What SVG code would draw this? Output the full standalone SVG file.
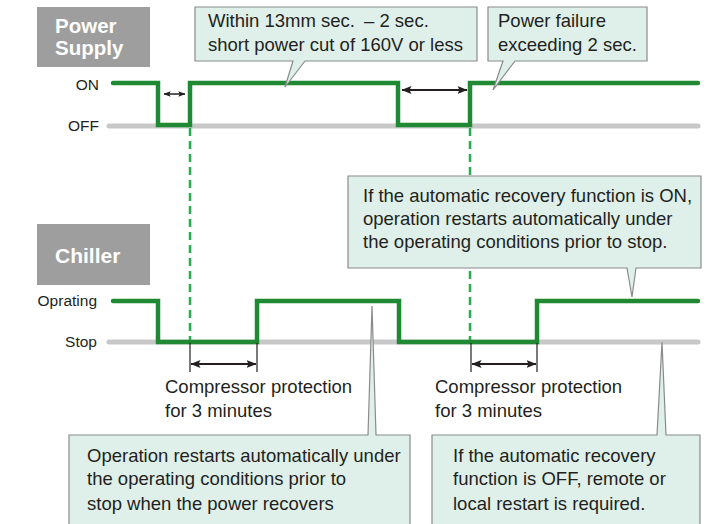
<svg xmlns="http://www.w3.org/2000/svg" width="715" height="524" viewBox="0 0 715 524">
<defs>
<style>
.t{font-family:"Liberation Sans",Arial,sans-serif;font-size:18.5px;fill:#231f20}
.lab{font-family:"Liberation Sans",Arial,sans-serif;font-size:15.5px;fill:#231f20;text-anchor:end}
.head{font-family:"Liberation Sans",Arial,sans-serif;font-size:20.5px;font-weight:bold;fill:#ffffff}
.hbox{fill:#9e9e9e}
.base{stroke:#c8c8c8;stroke-width:5;fill:none;stroke-linecap:round}
.sig{stroke:#1f8a33;stroke-width:4.5;fill:none;stroke-linecap:round;stroke-linejoin:miter}
.dash{stroke:#1db34a;stroke-width:2.5;fill:none;stroke-dasharray:8 5}
.call{fill:#dff0ea;stroke:#8a8a8a;stroke-width:1.2}
.tick{stroke:#231f20;stroke-width:1.2}
.arr{stroke:#231f20;stroke-width:2;fill:none}
</style>
<marker id="ah" viewBox="0 0 10 8" refX="9.5" refY="4" markerWidth="10" markerHeight="8" markerUnits="userSpaceOnUse" orient="auto-start-reverse">
<path d="M0,0 L10,4 L0,8 L2,4 Z" fill="#231f20"/>
</marker>
<marker id="ahs" viewBox="0 0 10 8" refX="9.5" refY="4" markerWidth="7" markerHeight="6" markerUnits="userSpaceOnUse" orient="auto-start-reverse">
<path d="M0,0 L10,4 L0,8 L2,4 Z" fill="#231f20"/>
</marker>
</defs>

<g id="power-supply-header">
<rect class="hbox" x="37" y="7" width="113" height="60"/>
<text class="head" x="55" y="33">Power</text>
<text class="head" x="55" y="55">Supply</text>
</g>

<g id="chiller-header">
<rect class="hbox" x="37" y="224" width="113" height="61"/>
<text class="head" x="55" y="263" style="font-size:21px">Chiller</text>
</g>

<g id="axis-labels">
<text class="lab" x="99" y="90">ON</text>
<text class="lab" x="99" y="131">OFF</text>
<text class="lab" x="97" y="306">Oprating</text>
<text class="lab" x="97" y="347">Stop</text>
</g>

<g id="connectors">
<line class="base" x1="109" y1="126" x2="698" y2="126"/>
<line class="base" x1="109" y1="342" x2="698" y2="342"/>
<line class="dash" x1="190" y1="128" x2="190" y2="340"/>
<line class="dash" x1="470" y1="128" x2="470" y2="340"/>
<polyline class="sig" points="113,83 158,83 158,125 190,125 190,83 398,83 398,125 470,125 470,83 698,83"/>
<polyline class="sig" points="113,301 158,301 158,342 257,342 257,301 399,301 399,342 537,342 537,301 698,301"/>
<line class="arr" x1="164" y1="94" x2="185" y2="94" marker-start="url(#ahs)" marker-end="url(#ahs)" style="stroke-width:1.5"/>
<line class="arr" x1="402" y1="90" x2="467" y2="90" marker-start="url(#ah)" marker-end="url(#ah)"/>
<line class="tick" x1="190" y1="343" x2="190" y2="372"/>
<line class="tick" x1="257" y1="343" x2="257" y2="372"/>
<line class="arr" x1="191" y1="364" x2="256" y2="364" marker-start="url(#ah)" marker-end="url(#ah)"/>
<line class="tick" x1="471" y1="343" x2="471" y2="372"/>
<line class="tick" x1="537" y1="343" x2="537" y2="372"/>
<line class="arr" x1="472" y1="364" x2="536" y2="364" marker-start="url(#ah)" marker-end="url(#ah)"/>
</g>

<g id="compressor-label-1">
<text class="t" x="165" y="393">Compressor protection</text>
<text class="t" x="165" y="417">for 3 minutes</text>
</g>
<g id="compressor-label-2">
<text class="t" x="435" y="393">Compressor protection</text>
<text class="t" x="435" y="417">for 3 minutes</text>
</g>

<g id="callout-short-cut">
<path class="call" d="M195,7 H477 V61 H305 L285,87 L293,61 H195 Z"/>
<text class="t" x="208" y="27">Within 13mm sec. <tspan x="364">– 2 sec.</tspan></text>
<text class="t" x="208" y="51">short power cut of 160V or less</text>
</g>

<g id="callout-power-failure">
<path class="call" d="M488,7 H647 V61 H515 L493,90 L503,61 H488 Z"/>
<text class="t" x="498" y="27">Power failure</text>
<text class="t" x="498" y="51">exceeding 2 sec.</text>
</g>

<g id="callout-auto-on">
<path class="call" d="M348,176 H701 V268 H636 L632,297 L627,268 H348 Z"/>
<text class="t" x="363" y="202">If the automatic recovery function is ON,</text>
<text class="t" x="363" y="225">operation restarts automatically under</text>
<text class="t" x="363" y="248">the operating conditions prior to stop.</text>
</g>

<g id="callout-restart">
<path class="call" d="M69,435 H368 L372,306 L376,435 H410 V530 H69 Z"/>
<text class="t" x="87" y="462">Operation restarts automatically under</text>
<text class="t" x="87" y="485">the operating conditions prior to</text>
<text class="t" x="87" y="510">stop when the power recovers</text>
</g>

<g id="callout-auto-off">
<path class="call" d="M432,435 H657 L662,342 L666,435 H700 V530 H432 Z"/>
<text class="t" x="453" y="462">If the automatic recovery</text>
<text class="t" x="453" y="485">function is OFF, remote or</text>
<text class="t" x="453" y="510">local restart is required.</text>
</g>
</svg>
